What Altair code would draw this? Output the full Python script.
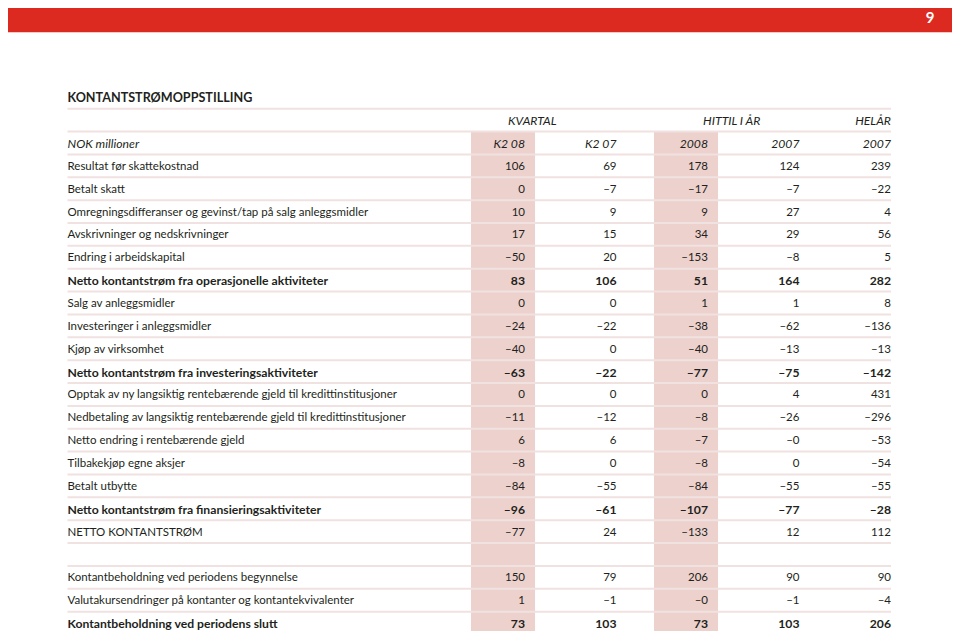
import altair as alt
import pandas as pd

FONT = "Lato"
TEXT = "#231f20"
PINK = "#ecd1cd"
LINE = "#f0e2e0"
RED = "#dc2a21"

title = "KONTANTSTRØMOPPSTILLING"
page_no = "9"
group_headers = ["KVARTAL", "HITTIL I ÅR", "HELÅR"]
unit_label = "NOK millioner"
col_headers = ["K2 08", "K2 07", "2008", "2007", "2007"]

labels = [
    "Resultat før skattekostnad",
    "Betalt skatt",
    "Omregningsdifferanser og gevinst/tap på salg anleggsmidler",
    "Avskrivninger og nedskrivninger",
    "Endring i arbeidskapital",
    "Netto kontantstrøm fra operasjonelle aktiviteter",
    "Salg av anleggsmidler",
    "Investeringer i anleggsmidler",
    "Kjøp av virksomhet",
    "Netto kontantstrøm fra investeringsaktiviteter",
    "Opptak av ny langsiktig rentebærende gjeld til kredittinstitusjoner",
    "Nedbetaling av langsiktig rentebærende gjeld til kredittinstitusjoner",
    "Netto endring i rentebærende gjeld",
    "Tilbakekjøp egne aksjer",
    "Betalt utbytte",
    "Netto kontantstrøm fra finansieringsaktiviteter",
    "NETTO KONTANTSTRØM",
    "",
    "Kontantbeholdning ved periodens begynnelse",
    "Valutakursendringer på kontanter og kontantekvivalenter",
    "Kontantbeholdning ved periodens slutt",
]
k2_08 = ["106", "0", "10", "17", "–50", "83", "0", "–24", "–40", "–63", "0", "–11", "6", "–8", "–84", "–96", "–77", "", "150", "1", "73"]
k2_07 = ["69", "–7", "9", "15", "20", "106", "0", "–22", "0", "–22", "0", "–12", "6", "0", "–55", "–61", "24", "", "79", "–1", "103"]
ytd_2008 = ["178", "–17", "9", "34", "–153", "51", "1", "–38", "–40", "–77", "0", "–8", "–7", "–8", "–84", "–107", "–133", "", "206", "–0", "73"]
ytd_2007 = ["124", "–7", "27", "29", "–8", "164", "1", "–62", "–13", "–75", "4", "–26", "–0", "0", "–55", "–77", "12", "", "90", "–1", "103"]
year_2007 = ["239", "–22", "4", "56", "5", "282", "8", "–136", "–13", "–142", "431", "–296", "–53", "–54", "–55", "–28", "112", "", "90", "–4", "206"]
bold_rows = [
    "Netto kontantstrøm fra operasjonelle aktiviteter",
    "Netto kontantstrøm fra investeringsaktiviteter",
    "Netto kontantstrøm fra finansieringsaktiviteter",
    "Kontantbeholdning ved periodens slutt",
]
highlight_cols = [1, 3]

LABEL_COL = -4

# ---- build tables ----
cells = []
cells.append({"row": -2, "col": LABEL_COL, "text": title, "style": "title"})
cells.append({"row": 0, "col": LABEL_COL, "text": unit_label, "style": "italic"})
for j, h in enumerate(col_headers):
    cells.append({"row": 0, "col": j + 1, "text": h, "style": "italic"})
series = [k2_08, k2_07, ytd_2008, ytd_2007, year_2007]
for i, lab in enumerate(labels):
    r = i + 1
    st = "bold" if lab in bold_rows else "normal"
    cells.append({"row": r, "col": LABEL_COL, "text": lab, "style": st})
    for j, s in enumerate(series):
        cells.append({"row": r, "col": j + 1, "text": s[i], "style": st})
df = pd.DataFrame(cells)

n_rows = len(labels)
rules = pd.DataFrame({"y": [r + 0.5 for r in range(-2, n_rows + 1)]})
pinks = pd.DataFrame({"col": highlight_cols})
heads = pd.DataFrame({"text": group_headers, "pos": [1.08, 3.26, 5.0], "al": ["center", "center", "right"]})

W, H = 944, 623
xs = alt.Scale(domain=[-4.650, 5.667], nice=False, zero=False)
ys = alt.Scale(domain=[-5.905, 21.347], nice=False, zero=False, reverse=True)
X = lambda f: alt.X(f, type="quantitative", scale=xs, axis=None)
Y = lambda f: alt.Y(f, type="quantitative", scale=ys, axis=None)

red = alt.Chart(pd.DataFrame({"a": [0]})).mark_rect(color=RED).encode(
    x=alt.value(-8), x2=alt.value(W + 8), y=alt.value(-8), y2=alt.value(24))
redline = alt.Chart(pd.DataFrame({"a": [0]})).mark_rule(color="#f4c9c4", strokeWidth=1).encode(
    x=alt.value(-8), x2=alt.value(W + 8), y=alt.value(24.5))
pg = alt.Chart(pd.DataFrame({"t": [page_no]})).mark_text(
    font=FONT, fontSize=15, fontWeight="bold", color="white", align="center", baseline="middle"
).encode(x=alt.value(922), y=alt.value(10), text="t:N")

pink = alt.Chart(pinks).transform_calculate(
    x1="datum.col - 0.59", x2="datum.col + 0.11", y1="-0.5", y2=str(n_rows + 0.5)
).mark_rect(color=PINK).encode(x=X("x1"), x2="x2:Q", y=Y("y1"), y2="y2:Q")

lines = alt.Chart(rules).transform_calculate(a=str(LABEL_COL), b="5").mark_rule(
    color=LINE, strokeWidth=2).encode(x=X("a"), x2="b:Q", y=Y("y"))

def text_layer(style, align, col_filter, **kw):
    base = alt.Chart(df).transform_filter(f"datum.style == '{style}'").transform_filter(col_filter)
    return base.mark_text(font=FONT, color=TEXT, align=align, baseline="middle", dy=1, **kw).encode(
        x=X("col"), y=Y("row"), text="text:N")

layers = [red, redline, pg, pink, lines]
layers.append(text_layer("title", "left", "datum.col < 0", fontSize=12.6, fontWeight="bold"))
for st, kw in [("normal", {"fontSize": 11.5}),
               ("bold", {"fontWeight": "bold", "fontSize": 12.2}),
               ("italic", {"fontStyle": "italic", "fontSize": 12.2})]:
    layers.append(text_layer(st, "left", "datum.col < 0", **kw))
    layers.append(text_layer(st, "right", "datum.col > 0", **kw))

for al in ["center", "right"]:
    layers.append(
        alt.Chart(heads).transform_filter(f"datum.al == '{al}'").transform_calculate(r="-1")
        .mark_text(font=FONT, fontSize=12.2, fontStyle="italic", color=TEXT, align=al, baseline="middle", dy=1)
        .encode(x=X("pos"), y=Y("r"), text="text:N")
    )

chart = alt.layer(*layers).properties(
    width=W, height=H, padding=0, autosize=alt.AutoSizeParams(type="none")
).configure_view(stroke=None)

chart.save("out.html", embed_options={"renderer": "svg", "actions": False})
